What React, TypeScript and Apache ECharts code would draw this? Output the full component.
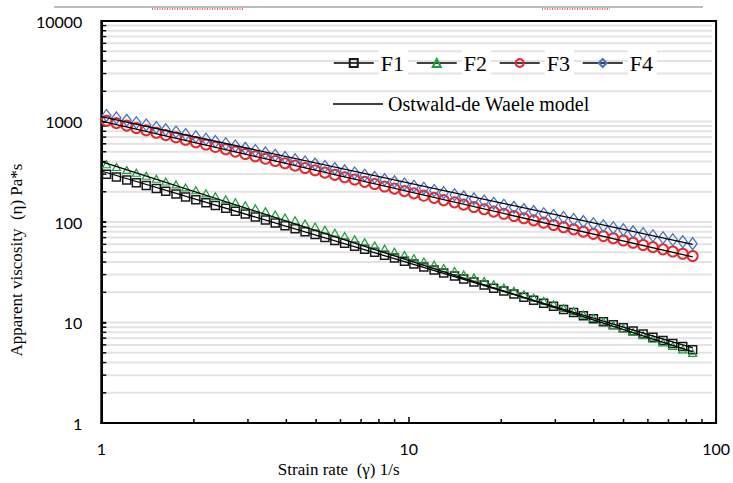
import React, { useEffect, useRef } from "react";
import * as echarts from "echarts";

// Strain rate (1/s)
const strainRate = [
  1.04, 1.12, 1.21, 1.3, 1.4, 1.51, 1.62, 1.75, 1.88, 2.03,
  2.19, 2.35, 2.54, 2.73, 2.94, 3.17, 3.42, 3.68, 3.96, 4.27,
  4.6, 4.96, 5.34, 5.75, 6.19, 6.67, 7.19, 7.75, 8.35, 8.99,
  9.69, 10.4, 11.2, 12.1, 13.0, 14.1, 15.1, 16.3, 17.6, 18.9,
  20.4, 22.0, 23.7, 25.5, 27.5, 29.6, 31.9, 34.4, 37.0, 39.9,
  43.0, 46.3, 49.9, 53.7, 57.9, 62.3, 67.2, 72.3, 77.9, 83.9,
];

// Apparent viscosity (Pa*s)
const f1 = [
  299, 280, 262, 246, 231, 216, 203, 190, 178, 167,
  156, 146, 137, 128, 120, 112, 105, 98.1, 91.9, 85.9,
  80.3, 75.2, 70.2, 65.7, 61.5, 57.4, 53.6, 50.2, 46.8, 43.8,
  40.8, 38.2, 35.7, 33.3, 31.1, 29.0, 27.1, 25.3, 23.6, 22.0,
  20.6, 19.2, 17.9, 16.7, 15.6, 14.5, 13.5, 12.6, 11.7, 10.9,
  10.2, 9.5, 8.86, 8.24, 7.68, 7.16, 6.65, 6.2, 5.77, 5.37,
];
const f2 = [
  376, 353, 330, 309, 289, 270, 253, 237, 221, 207,
  193, 181, 169, 157, 147, 137, 128, 119, 111, 104,
  96.7, 90.1, 83.8, 78.1, 72.8, 67.6, 63.0, 58.6, 54.4, 50.6,
  47.0, 43.7, 40.6, 37.7, 35.0, 32.5, 30.1, 28.0, 25.9, 24.0,
  22.3, 20.7, 19.1, 17.7, 16.4, 15.2, 14.0, 13.0, 12.0, 11.1,
  10.3, 9.48, 8.77, 8.08, 7.47, 6.9, 6.36, 5.87, 5.42, 4.99,
];
const f3 = [
  1017, 964, 911, 863, 818, 774, 733, 695, 658, 623,
  590, 559, 530, 502, 476, 451, 427, 405, 384, 364,
  345, 328, 310, 295, 279, 265, 251, 239, 226, 215,
  203, 193, 183, 174, 165, 157, 149, 141, 134, 127,
  121, 115, 109, 104, 98.6, 93.5, 88.9, 84.6, 80.3, 76.3,
  72.5, 68.9, 65.5, 62.3, 59.2, 56.3, 53.5, 50.9, 48.4, 46.0,
];
const f4 = [
  1147, 1086, 1027, 973, 923, 873, 828, 785, 743, 705,
  667, 633, 601, 570, 541, 514, 487, 462, 439, 417,
  396, 377, 357, 340, 323, 307, 292, 278, 264, 251,
  239, 227, 217, 206, 196, 187, 178, 170, 162, 154,
  147, 140, 133, 127, 121, 116, 111, 106, 101, 96.1,
  91.7, 87.6, 83.7, 79.9, 76.4, 73.0, 69.7, 66.7, 63.8, 61.0,
];

// Ostwald-de Waele model lines (end points)
const modelRate = [1, 84];
const model1 = [322, 5.6];
const model2 = [400, 5.1];
const model3 = [1010, 45];
const model4 = [1120, 60];

// Axis tick / grid values
const yGridValues = [
  2, 3, 4, 5, 6, 7, 8, 9, 10,
  20, 30, 40, 50, 60, 70, 80, 90, 100,
  200, 300, 400, 500, 600, 700, 800, 900, 1000,
  2000, 3000, 4000, 5000, 6000, 7000, 8000, 9000,
];
const xMinorTicks = [2, 3, 4, 5, 6, 7, 8, 9, 20, 30, 40, 50, 60, 70, 80, 90];

const seriesNames = ["F1", "F2", "F3", "F4"];
const modelName = "Ostwald-de Waele model";

const zip = (xs: number[], ys: number[]) => xs.map((x, i) => [x, ys[i]]);

export default function App() {
  const ref = useRef<HTMLDivElement>(null);
  useEffect(() => {
    document.body.style.margin = "0";
    if (!ref.current) return;
    const chart = echarts.init(ref.current, undefined, { renderer: "svg" });
    const serif = "'Liberation Serif', serif";
    const sans = "Lato, sans-serif";

    const markerSeries = (
      name: string,
      data: number[],
      symbol: string,
      size: number | number[],
      color: string,
      bw: number
    ) => ({
      name,
      type: "line",
      data: zip(strainRate, data),
      symbol,
      symbolSize: size,
      showSymbol: true,
      z: 3,
      lineStyle: { width: 0, opacity: 0 },
      itemStyle: { color: "transparent", borderColor: color, borderWidth: bw },
    });

    const modelSeries = (data: number[]) => ({
      name: modelName,
      type: "line",
      data: zip(modelRate, data),
      symbol: "none",
      z: 4,
      lineStyle: { color: "#000", width: 1.3 },
      itemStyle: { color: "#000" },
    });

    const option: any = {
      animation: false,
      backgroundColor: "#fff",
      grid: {
        left: 92,
        right: 14,
        top: 21,
        bottom: 56,
        show: true,
        borderColor: "#000",
        borderWidth: 2,
      },
      xAxis: {
        type: "log",
        logBase: 10,
        min: 1,
        max: 100,
        axisLine: { lineStyle: { color: "#000", width: 2 } },
        axisTick: { inside: true, length: 6, lineStyle: { color: "#000", width: 1.5 } },
        axisLabel: {
          color: "#000",
          fontFamily: sans,
          fontSize: 16,
          margin: 17,
          formatter: (v: number) => String(v),
        },
        splitLine: { show: false },
        name: "Strain rate  (γ) 1/s",
        nameLocation: "middle",
        nameGap: 34,
        nameTextStyle: {
          fontFamily: serif,
          fontSize: 17,
          color: "#000",
          padding: [0, 140, 0, 0],
        },
      },
      yAxis: {
        type: "log",
        logBase: 10,
        min: 1,
        max: 10000,
        axisLine: { lineStyle: { color: "#000", width: 2 } },
        axisTick: { inside: true, length: 5, lineStyle: { color: "#000", width: 1.5 } },
        axisLabel: {
          color: "#000",
          fontFamily: sans,
          fontSize: 16,
          margin: 19,
          formatter: (v: number) => String(v),
        },
        splitLine: { show: false },
        name: "Apparent viscosity  (η) Pa*s",
        nameLocation: "middle",
        nameGap: 64,
        nameTextStyle: {
          fontFamily: serif,
          fontSize: 17,
          color: "#000",
          padding: [0, 76, 0, 0],
        },
      },
      legend: [
        {
          left: 328,
          top: 40,
          itemWidth: 40,
          itemHeight: 10,
          itemGap: 8,
          data: seriesNames,
          textStyle: {
            fontFamily: serif,
            fontSize: 22,
            color: "#000",
            backgroundColor: "#fff",
            padding: [7, 4, 7, 2],
          },
          lineStyle: { color: "#000", width: 1.5, opacity: 1 },
        },
        {
          left: 328,
          top: 89,
          itemWidth: 50,
          itemHeight: 1.5,
          data: [{ name: modelName, icon: "rect" }],
          textStyle: { fontFamily: serif, fontSize: 20, color: "#000" },
        },
      ],
      graphic: [
        {
          type: "line",
          shape: { x1: 54, y1: 7, x2: 703, y2: 7 },
          style: { stroke: "#bdbdbd", lineWidth: 2 },
        },
        {
          type: "line",
          shape: { x1: 152, y1: 9, x2: 244, y2: 9 },
          style: { stroke: "#d33", lineWidth: 1.5, lineDash: [1, 1.5] },
        },
        {
          type: "line",
          shape: { x1: 542, y1: 9, x2: 610, y2: 9 },
          style: { stroke: "#d33", lineWidth: 1.5, lineDash: [1, 1.5] },
        },
      ],
      series: [
        {
          name: "ygrid",
          type: "custom",
          silent: true,
          z: 1,
          data: yGridValues.map((v) => [1, v]),
          renderItem: (_p: any, api: any) => {
            const a = api.coord([1, api.value(1)]);
            const b = api.coord([100, api.value(1)]);
            return {
              type: "group",
              children: [
                {
                  type: "line",
                  shape: { x1: a[0] + 5, y1: a[1], x2: b[0] - 4, y2: b[1] },
                  style: { stroke: "#e3e3e3", lineWidth: 2 },
                },
                {
                  type: "line",
                  shape: { x1: a[0], y1: a[1], x2: a[0] + 5, y2: a[1] },
                  style: { stroke: "#000", lineWidth: 1.5 },
                },
              ],
            };
          },
        },
        {
          name: "xminor",
          type: "custom",
          silent: true,
          z: 1,
          data: xMinorTicks.map((v) => [v, 1]),
          renderItem: (_p: any, api: any) => {
            const a = api.coord([api.value(0), 1]);
            return {
              type: "line",
              shape: { x1: a[0], y1: a[1], x2: a[0], y2: a[1] - 4 },
              style: { stroke: "#000", lineWidth: 1.5 },
            };
          },
        },
        markerSeries("F1", f1, "rect", 8, "#1a1a1a", 1.5),
        markerSeries("F2", f2, "triangle", [8, 7], "#1e9e3a", 1.2),
        markerSeries("F3", f3, "circle", 10, "#e8282c", 2),
        markerSeries("F4", f4, "diamond", [9, 12], "#4a72c0", 1.3),
        modelSeries(model1),
        modelSeries(model2),
        modelSeries(model3),
        modelSeries(model4),
      ],
    };
    chart.setOption(option);
    return () => chart.dispose();
  }, []);
  return <div ref={ref} style={{ width: 733, height: 483 }} />;
}
